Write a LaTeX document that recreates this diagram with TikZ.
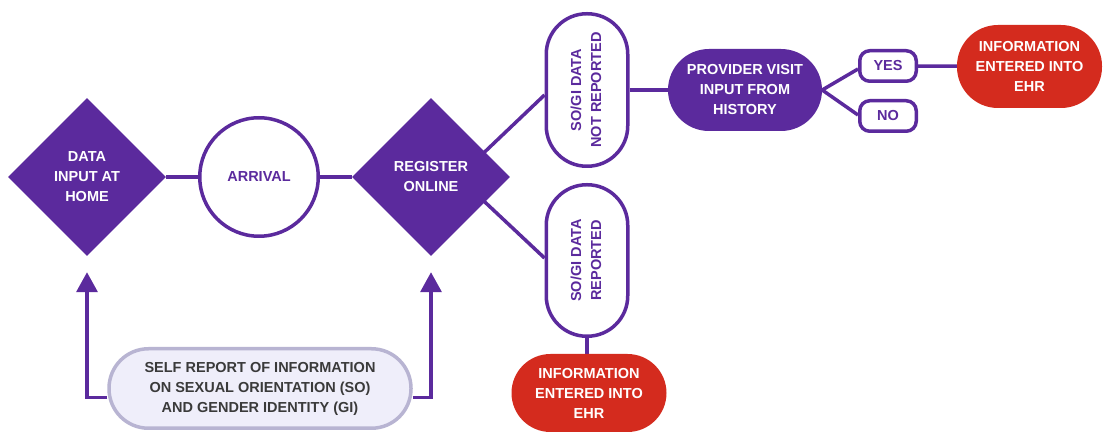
\documentclass[tikz,border=0pt]{standalone}
\usepackage{fontspec}
\setmainfont{Liberation Sans}
\usetikzlibrary{shapes.geometric,arrows.meta,calc,backgrounds}
\definecolor{pp}{HTML}{5B2A9D}
\definecolor{rd}{HTML}{D42B1E}
\definecolor{lav}{HTML}{EFEEFA}
\definecolor{lavb}{HTML}{B8B4D2}
\definecolor{txtgray}{HTML}{3A3A3A}
\newcommand\lblfont{\fontsize{14.5}{20}\selectfont\bfseries}
\tikzset{
  conn/.style={draw=pp, line width=3.5pt},
  arrowconn/.style={conn, -{Triangle[length=20pt,width=21pt]}},
  dia/.style={diamond, fill=pp, text=white, minimum width=158pt, minimum height=158pt, inner sep=0pt, align=center, font=\lblfont},
  ring/.style={circle, draw=pp, line width=3.5pt, fill=white, minimum size=118.5pt, inner sep=0pt, text=pp, font=\lblfont},
  vpill/.style={rectangle, rounded corners=40.5pt, draw=pp, line width=3.5pt, fill=white, minimum width=81.5pt, minimum height=152.5pt, inner sep=0pt, text=pp, font=\lblfont},
  ppill/.style={rectangle, rounded corners=41pt, fill=pp, text=white, minimum width=154pt, minimum height=82pt, inner sep=0pt, align=center, font=\lblfont},
  choice/.style={rectangle, rounded corners=10pt, draw=pp, line width=3.5pt, fill=white, minimum width=56.5pt, minimum height=30.5pt, inner sep=0pt, text=pp, font=\lblfont},
  rpill/.style={rectangle, fill=rd, text=white, inner sep=0pt, align=center, font=\lblfont},
  spill/.style={rectangle, rounded corners=39.5pt, draw=lavb, line width=3.5pt, fill=lav, text=txtgray, minimum width=302pt, minimum height=79.5pt, inner sep=0pt, align=center, font=\lblfont},
}
\begin{document}
\begin{tikzpicture}[x=1pt,y=-1pt]
\useasboundingbox (0,0) rectangle (1104,435);

\node[dia] (d1) at (87,177) {DATA\\INPUT AT\\HOME};
\node[ring] (arr) at (259,177) {ARRIVAL};
\node[dia] (d2) at (431,177) {REGISTER\\ONLINE};
\node[vpill] (nrep) at (587,90) {\rotatebox{90}{\begin{tabular}{@{}c@{}}SO/GI DATA\\NOT REPORTED\end{tabular}}};
\node[vpill, minimum height=151.5pt] (rep) at (587,260.5) {\rotatebox{90}{\begin{tabular}{@{}c@{}}SO/GI DATA\\REPORTED\end{tabular}}};
\node[ppill] (pv) at (745,90) {PROVIDER VISIT\\INPUT FROM\\HISTORY};
\node[choice] (yes) at (888,66) {YES};
\node[choice] (no) at (888,116) {NO};
\node[rpill, rounded corners=41pt, minimum width=145pt, minimum height=83pt] (ehr1) at (1029.5,66.5) {INFORMATION\\ENTERED INTO\\EHR};
\node[rpill, rounded corners=39pt, minimum width=155pt, minimum height=78pt] (ehr2) at (589,393) {INFORMATION\\ENTERED INTO\\EHR};
\node[spill] (sr) at (260,388.5) {SELF REPORT OF INFORMATION\\ON SEXUAL ORIENTATION (SO)\\AND GENDER IDENTITY (GI)};

\begin{scope}[on background layer]
\fill[white] (0,0) rectangle (1104,435);
\draw[conn] (d1) -- (arr);
\draw[conn] (arr) -- (d2);
\draw[conn] ($(d2.center)+(40,-12)$) -- ($(nrep.west)+(0,5)$);
\draw[conn] ($(d2.center)+(40,12)$) -- ($(rep.west)+(0,-2.5)$);
\draw[conn] (nrep) -- (pv);
\draw[conn] (pv.east) -- ($(yes.west)+(0,3)$);
\draw[conn] (pv.east) -- ($(no.west)+(0,-1)$);
\draw[conn] (yes) -- (ehr1);
\draw[conn] (rep.south) -- (rep.south |- ehr2.north);
\draw[arrowconn] ([yshift=-9pt]sr.west) -| ([yshift=-16pt]d1.south);
\draw[arrowconn] ([yshift=-9pt]sr.east) -| ([yshift=-16pt]d2.south);
\end{scope}
\end{tikzpicture}
\end{document}
